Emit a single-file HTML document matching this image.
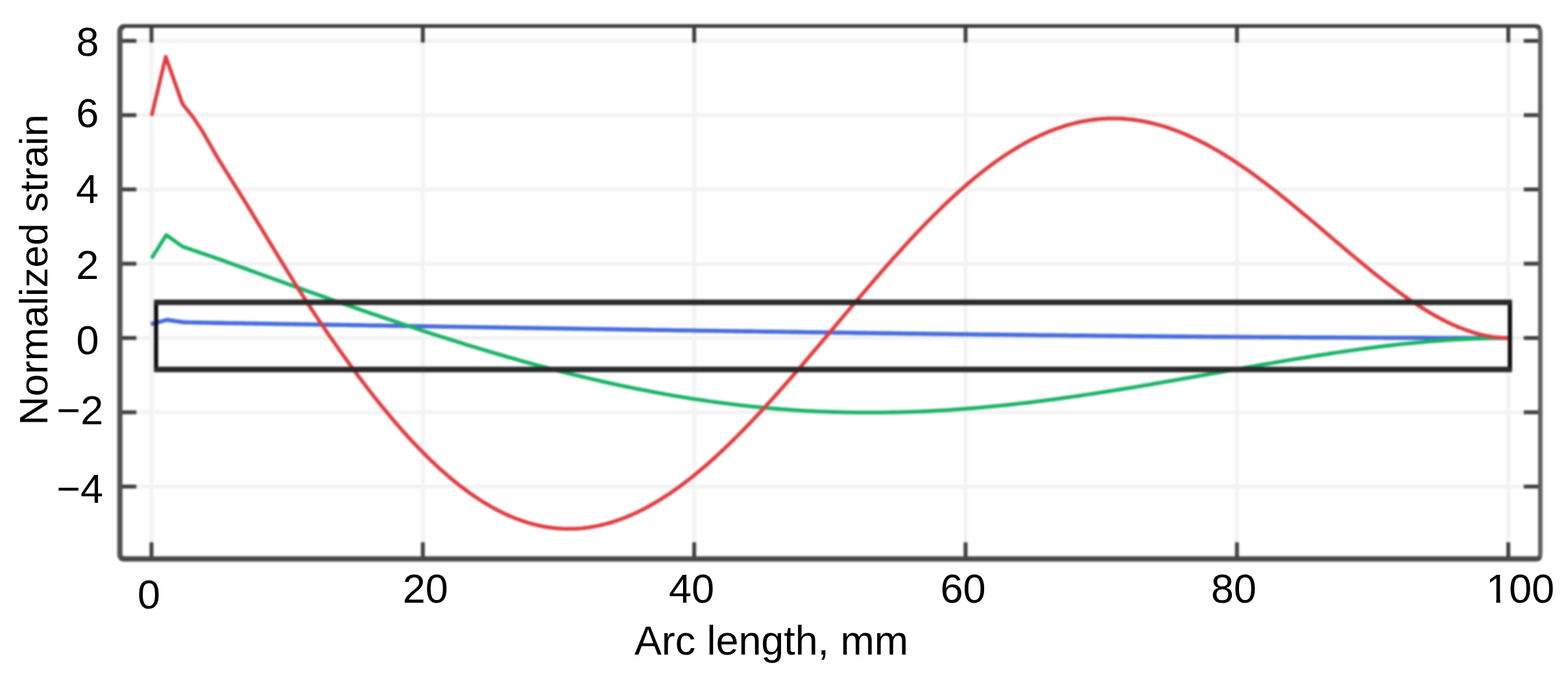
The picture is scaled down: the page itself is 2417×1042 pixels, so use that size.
<!DOCTYPE html>
<html lang="en"><head><meta charset="utf-8"><title>Normalized strain vs arc length</title>
<style>
html,body{margin:0;padding:0;background:#fff;}
body{width:2417px;height:1042px;overflow:hidden;}
svg{display:block;}
text{font-family:"Liberation Sans",sans-serif;fill:#000;}
.tk{font-size:63px;}
.ax{font-size:62.8px;}
.ay{font-size:61.6px;}
</style></head><body>
<svg width="2417" height="1042" viewBox="0 0 2417 1042">
<defs><filter id="b" filterUnits="userSpaceOnUse" x="0" y="0" width="2417" height="1042" color-interpolation-filters="sRGB"><feGaussianBlur stdDeviation="1.7"/></filter></defs>
<rect width="2417" height="1042" fill="#fff"/>
<g filter="url(#b)" fill="none">
<rect x="-20" y="-20" width="2457" height="1082" fill="#fff"/>

<g stroke="#f3f3f3" stroke-width="6">
<line x1="233.5" y1="40.1" x2="233.5" y2="861.4"/>
<line x1="651.8" y1="40.1" x2="651.8" y2="861.4"/>
<line x1="1070.1" y1="40.1" x2="1070.1" y2="861.4"/>
<line x1="1488.4" y1="40.1" x2="1488.4" y2="861.4"/>
<line x1="1906.7" y1="40.1" x2="1906.7" y2="861.4"/>
<line x1="2325.0" y1="40.1" x2="2325.0" y2="861.4"/>
<line x1="184.8" y1="63.0" x2="2374.3" y2="63.0"/>
<line x1="184.8" y1="177.5" x2="2374.3" y2="177.5"/>
<line x1="184.8" y1="292.0" x2="2374.3" y2="292.0"/>
<line x1="184.8" y1="406.5" x2="2374.3" y2="406.5"/>
<line x1="184.8" y1="521.0" x2="2374.3" y2="521.0"/>
<line x1="184.8" y1="635.5" x2="2374.3" y2="635.5"/>
<line x1="184.8" y1="750.0" x2="2374.3" y2="750.0"/>
</g>
<g>
<path d="M232.5,499.6 L257.5,493.0 L284.0,496.8 L291.9,496.9 L299.8,497.1 L307.6,497.2 L315.5,497.4 L323.4,497.5 L331.3,497.7 L339.1,497.8 L347.0,498.0 L354.9,498.1 L362.8,498.2 L370.6,498.3 L378.5,498.5 L386.4,498.6 L394.3,498.7 L402.1,498.9 L410.0,499.0 L417.9,499.1 L425.8,499.2 L433.7,499.4 L441.5,499.5 L449.4,499.6 L457.3,499.8 L465.2,499.9 L473.0,500.0 L480.9,500.1 L488.8,500.3 L496.7,500.4 L504.5,500.5 L512.4,500.7 L520.3,500.8 L528.2,500.9 L536.0,501.0 L543.9,501.2 L551.8,501.3 L559.7,501.4 L567.6,501.6 L575.4,501.7 L583.3,501.8 L591.2,501.9 L599.1,502.1 L606.9,502.2 L614.8,502.3 L622.7,502.5 L630.6,502.6 L638.4,502.7 L646.3,502.8 L654.2,503.0 L662.1,503.1 L669.9,503.2 L677.8,503.4 L685.7,503.5 L693.6,503.6 L701.5,503.7 L709.3,503.9 L717.2,504.0 L725.1,504.1 L733.0,504.2 L740.8,504.4 L748.7,504.5 L756.6,504.6 L764.5,504.7 L772.3,504.9 L780.2,505.0 L788.1,505.1 L796.0,505.3 L803.8,505.4 L811.7,505.5 L819.6,505.6 L827.5,505.8 L835.4,505.9 L843.2,506.0 L851.1,506.1 L859.0,506.3 L866.9,506.4 L874.7,506.5 L882.6,506.6 L890.5,506.8 L898.4,506.9 L906.2,507.0 L914.1,507.1 L922.0,507.2 L929.9,507.4 L937.7,507.5 L945.6,507.6 L953.5,507.7 L961.4,507.9 L969.3,508.0 L977.1,508.1 L985.0,508.2 L992.9,508.3 L1000.8,508.5 L1008.6,508.6 L1016.5,508.7 L1024.4,508.8 L1032.3,508.9 L1040.1,509.1 L1048.0,509.2 L1055.9,509.3 L1063.8,509.4 L1071.6,509.5 L1079.5,509.7 L1087.4,509.8 L1095.3,509.9 L1103.2,510.0 L1111.0,510.1 L1118.9,510.2 L1126.8,510.4 L1134.7,510.5 L1142.5,510.6 L1150.4,510.7 L1158.3,510.8 L1166.2,510.9 L1174.0,511.1 L1181.9,511.2 L1189.8,511.3 L1197.7,511.4 L1205.5,511.5 L1213.4,511.6 L1221.3,511.7 L1229.2,511.8 L1237.1,512.0 L1244.9,512.1 L1252.8,512.2 L1260.7,512.3 L1268.6,512.4 L1276.4,512.5 L1284.3,512.6 L1292.2,512.7 L1300.1,512.8 L1307.9,512.9 L1315.8,513.0 L1323.7,513.2 L1331.6,513.3 L1339.4,513.4 L1347.3,513.5 L1355.2,513.6 L1363.1,513.7 L1370.9,513.8 L1378.8,513.9 L1386.7,514.0 L1394.6,514.1 L1402.5,514.2 L1410.3,514.3 L1418.2,514.4 L1426.1,514.5 L1434.0,514.6 L1441.8,514.7 L1449.7,514.8 L1457.6,514.9 L1465.5,515.0 L1473.3,515.1 L1481.2,515.2 L1489.1,515.3 L1497.0,515.4 L1504.8,515.5 L1512.7,515.6 L1520.6,515.7 L1528.5,515.8 L1536.4,515.8 L1544.2,515.9 L1552.1,516.0 L1560.0,516.1 L1567.9,516.2 L1575.7,516.3 L1583.6,516.4 L1591.5,516.5 L1599.4,516.6 L1607.2,516.7 L1615.1,516.7 L1623.0,516.8 L1630.9,516.9 L1638.7,517.0 L1646.6,517.1 L1654.5,517.2 L1662.4,517.2 L1670.3,517.3 L1678.1,517.4 L1686.0,517.5 L1693.9,517.6 L1701.8,517.6 L1709.6,517.7 L1717.5,517.8 L1725.4,517.9 L1733.3,517.9 L1741.1,518.0 L1749.0,518.1 L1756.9,518.2 L1764.8,518.2 L1772.6,518.3 L1780.5,518.4 L1788.4,518.5 L1796.3,518.5 L1804.2,518.6 L1812.0,518.7 L1819.9,518.7 L1827.8,518.8 L1835.7,518.9 L1843.5,518.9 L1851.4,519.0 L1859.3,519.1 L1867.2,519.1 L1875.0,519.2 L1882.9,519.2 L1890.8,519.3 L1898.7,519.4 L1906.5,519.4 L1914.4,519.5 L1922.3,519.5 L1930.2,519.6 L1938.1,519.6 L1945.9,519.7 L1953.8,519.7 L1961.7,519.8 L1969.6,519.8 L1977.4,519.9 L1985.3,519.9 L1993.2,520.0 L2001.1,520.0 L2008.9,520.1 L2016.8,520.1 L2024.7,520.2 L2032.6,520.2 L2040.4,520.2 L2048.3,520.3 L2056.2,520.3 L2064.1,520.4 L2072.0,520.4 L2079.8,520.4 L2087.7,520.5 L2095.6,520.5 L2103.5,520.5 L2111.3,520.6 L2119.2,520.6 L2127.1,520.6 L2135.0,520.7 L2142.8,520.7 L2150.7,520.7 L2158.6,520.7 L2166.5,520.8 L2174.3,520.8 L2182.2,520.8 L2190.1,520.8 L2198.0,520.8 L2205.9,520.9 L2213.7,520.9 L2221.6,520.9 L2229.5,520.9 L2237.4,520.9 L2245.2,520.9 L2253.1,520.9 L2261.0,521.0 L2268.9,521.0 L2276.7,521.0 L2284.6,521.0 L2292.5,521.0 L2300.4,521.0 L2308.2,521.0 L2316.1,521.0 L2324.0,521.0" stroke="#466cdc" stroke-width="6.4" stroke-linejoin="round"/>
<path d="M233.7,398.2 L256.2,362.2 L281.2,380.0 L289.1,382.8 L297.0,385.6 L304.9,388.2 L312.7,390.9 L320.6,393.5 L328.5,396.2 L336.4,399.0 L344.3,401.8 L352.2,404.7 L360.1,407.6 L368.0,410.4 L375.8,413.3 L383.7,416.2 L391.6,419.0 L399.5,421.9 L407.4,424.7 L415.3,427.6 L423.2,430.4 L431.1,433.3 L438.9,436.1 L446.8,438.9 L454.7,441.8 L462.6,444.6 L470.5,447.4 L478.4,450.2 L486.3,453.0 L494.2,455.8 L502.0,458.6 L509.9,461.4 L517.8,464.2 L525.7,467.0 L533.6,469.7 L541.5,472.5 L549.4,475.2 L557.3,477.9 L565.1,480.7 L573.0,483.4 L580.9,486.1 L588.8,488.8 L596.7,491.5 L604.6,494.1 L612.5,496.8 L620.4,499.4 L628.2,502.1 L636.1,504.7 L644.0,507.3 L651.9,509.9 L659.8,512.4 L667.7,515.0 L675.6,517.5 L683.5,520.1 L691.3,522.6 L699.2,525.0 L707.1,527.5 L715.0,530.0 L722.9,532.4 L730.8,534.8 L738.7,537.2 L746.5,539.6 L754.4,542.0 L762.3,544.3 L770.2,546.6 L778.1,548.9 L786.0,551.2 L793.9,553.4 L801.8,555.7 L809.6,557.9 L817.5,560.0 L825.4,562.2 L833.3,564.3 L841.2,566.4 L849.1,568.5 L857.0,570.6 L864.9,572.6 L872.7,574.6 L880.6,576.6 L888.5,578.5 L896.4,580.4 L904.3,582.3 L912.2,584.2 L920.1,586.0 L928.0,587.8 L935.8,589.6 L943.7,591.4 L951.6,593.1 L959.5,594.8 L967.4,596.4 L975.3,598.0 L983.2,599.6 L991.1,601.2 L998.9,602.7 L1006.8,604.2 L1014.7,605.7 L1022.6,607.1 L1030.5,608.5 L1038.4,609.9 L1046.3,611.2 L1054.2,612.5 L1062.0,613.8 L1069.9,615.0 L1077.8,616.2 L1085.7,617.4 L1093.6,618.5 L1101.5,619.6 L1109.4,620.7 L1117.2,621.7 L1125.1,622.7 L1133.0,623.6 L1140.9,624.6 L1148.8,625.4 L1156.7,626.3 L1164.6,627.1 L1172.5,627.9 L1180.3,628.6 L1188.2,629.3 L1196.1,630.0 L1204.0,630.6 L1211.9,631.2 L1219.8,631.8 L1227.7,632.3 L1235.6,632.8 L1243.4,633.3 L1251.3,633.7 L1259.2,634.1 L1267.1,634.4 L1275.0,634.7 L1282.9,635.0 L1290.8,635.2 L1298.7,635.4 L1306.5,635.6 L1314.4,635.7 L1322.3,635.8 L1330.2,635.9 L1338.1,635.9 L1346.0,635.9 L1353.9,635.9 L1361.8,635.8 L1369.6,635.7 L1377.5,635.5 L1385.4,635.4 L1393.3,635.1 L1401.2,634.9 L1409.1,634.6 L1417.0,634.3 L1424.9,634.0 L1432.7,633.6 L1440.6,633.2 L1448.5,632.7 L1456.4,632.3 L1464.3,631.8 L1472.2,631.2 L1480.1,630.7 L1488.0,630.1 L1495.8,629.5 L1503.7,628.8 L1511.6,628.1 L1519.5,627.4 L1527.4,626.7 L1535.3,625.9 L1543.2,625.1 L1551.0,624.3 L1558.9,623.5 L1566.8,622.6 L1574.7,621.7 L1582.6,620.8 L1590.5,619.9 L1598.4,618.9 L1606.3,617.9 L1614.1,616.9 L1622.0,615.9 L1629.9,614.8 L1637.8,613.7 L1645.7,612.6 L1653.6,611.5 L1661.5,610.4 L1669.4,609.2 L1677.2,608.0 L1685.1,606.9 L1693.0,605.6 L1700.9,604.4 L1708.8,603.2 L1716.7,601.9 L1724.6,600.7 L1732.5,599.4 L1740.3,598.1 L1748.2,596.8 L1756.1,595.5 L1764.0,594.1 L1771.9,592.8 L1779.8,591.4 L1787.7,590.1 L1795.6,588.7 L1803.4,587.3 L1811.3,586.0 L1819.2,584.6 L1827.1,583.2 L1835.0,581.8 L1842.9,580.4 L1850.8,579.0 L1858.7,577.6 L1866.5,576.2 L1874.4,574.8 L1882.3,573.4 L1890.2,572.0 L1898.1,570.6 L1906.0,569.2 L1913.9,567.8 L1921.7,566.4 L1929.6,565.0 L1937.5,563.6 L1945.4,562.2 L1953.3,560.9 L1961.2,559.5 L1969.1,558.2 L1977.0,556.8 L1984.8,555.5 L1992.7,554.2 L2000.6,552.9 L2008.5,551.6 L2016.4,550.3 L2024.3,549.0 L2032.2,547.8 L2040.1,546.6 L2047.9,545.3 L2055.8,544.2 L2063.7,543.0 L2071.6,541.8 L2079.5,540.7 L2087.4,539.6 L2095.3,538.5 L2103.2,537.4 L2111.0,536.4 L2118.9,535.4 L2126.8,534.4 L2134.7,533.4 L2142.6,532.5 L2150.5,531.6 L2158.4,530.7 L2166.3,529.9 L2174.1,529.1 L2182.0,528.3 L2189.9,527.6 L2197.8,526.9 L2205.7,526.2 L2213.6,525.6 L2221.5,525.0 L2229.4,524.4 L2237.2,523.9 L2245.1,523.4 L2253.0,523.0 L2260.9,522.6 L2268.8,522.2 L2276.7,521.9 L2284.6,521.6 L2292.5,521.4 L2300.3,521.2 L2308.2,521.1 L2316.1,521.0 L2324.0,521.0" stroke="#18b266" stroke-width="5.8" stroke-linejoin="round"/>
<path d="M233.7,178.7 L255.5,87.5 L281.2,160.0 L297.5,180.5 L311.2,201.0 L336.2,244.5 L378.1,311.5 L385.6,323.8 L393.1,336.2 L400.6,348.6 L408.2,361.0 L415.7,373.4 L423.2,385.8 L430.7,398.1 L438.2,410.3 L445.7,422.5 L453.2,434.5 L460.7,446.5 L468.3,458.3 L475.8,469.9 L483.3,481.3 L490.8,492.5 L498.3,503.6 L505.8,514.6 L513.3,525.4 L520.8,536.2 L528.4,546.8 L535.9,557.2 L543.4,567.5 L550.9,577.7 L558.4,587.7 L565.9,597.5 L573.4,607.2 L581.0,616.7 L588.5,626.1 L596.0,635.2 L603.5,644.2 L611.0,653.0 L618.5,661.6 L626.0,670.0 L633.5,678.3 L641.1,686.3 L648.6,694.0 L656.1,701.6 L663.6,709.0 L671.1,716.1 L678.6,723.1 L686.1,729.7 L693.7,736.2 L701.2,742.4 L708.7,748.4 L716.2,754.1 L723.7,759.6 L731.2,764.9 L738.7,769.9 L746.2,774.6 L753.8,779.1 L761.3,783.4 L768.8,787.4 L776.3,791.1 L783.8,794.5 L791.3,797.7 L798.8,800.6 L806.3,803.3 L813.9,805.7 L821.4,807.8 L828.9,809.7 L836.4,811.3 L843.9,812.6 L851.4,813.6 L858.9,814.4 L866.5,814.9 L874.0,815.2 L881.5,815.1 L889.0,814.8 L896.5,814.3 L904.0,813.5 L911.5,812.4 L919.0,811.0 L926.6,809.4 L934.1,807.5 L941.6,805.4 L949.1,803.1 L956.6,800.4 L964.1,797.6 L971.6,794.4 L979.2,791.1 L986.7,787.5 L994.2,783.6 L1001.7,779.6 L1009.2,775.3 L1016.7,770.8 L1024.2,766.0 L1031.7,761.1 L1039.3,755.9 L1046.8,750.5 L1054.3,744.9 L1061.8,739.2 L1069.3,733.2 L1076.8,727.0 L1084.3,720.7 L1091.8,714.2 L1099.4,707.5 L1106.9,700.7 L1114.4,693.6 L1121.9,686.5 L1129.4,679.2 L1136.9,671.7 L1144.4,664.1 L1152.0,656.4 L1159.5,648.6 L1167.0,640.6 L1174.5,632.5 L1182.0,624.3 L1189.5,616.1 L1197.0,607.7 L1204.5,599.3 L1212.1,590.7 L1219.6,582.1 L1227.1,573.5 L1234.6,564.8 L1242.1,556.0 L1249.6,547.2 L1257.1,538.4 L1264.6,529.5 L1272.2,520.6 L1279.7,511.7 L1287.2,502.8 L1294.7,493.9 L1302.2,485.0 L1309.7,476.1 L1317.2,467.2 L1324.8,458.4 L1332.3,449.6 L1339.8,440.8 L1347.3,432.1 L1354.8,423.5 L1362.3,414.9 L1369.8,406.4 L1377.3,397.9 L1384.9,389.6 L1392.4,381.3 L1399.9,373.1 L1407.4,365.1 L1414.9,357.1 L1422.4,349.2 L1429.9,341.5 L1437.5,333.9 L1445.0,326.5 L1452.5,319.1 L1460.0,311.9 L1467.5,304.9 L1475.0,298.0 L1482.5,291.3 L1490.0,284.7 L1497.6,278.3 L1505.1,272.1 L1512.6,266.1 L1520.1,260.2 L1527.6,254.6 L1535.1,249.1 L1542.6,243.8 L1550.1,238.7 L1557.7,233.9 L1565.2,229.2 L1572.7,224.7 L1580.2,220.5 L1587.7,216.4 L1595.2,212.6 L1602.7,209.0 L1610.3,205.7 L1617.8,202.5 L1625.3,199.6 L1632.8,196.9 L1640.3,194.4 L1647.8,192.2 L1655.3,190.2 L1662.8,188.4 L1670.4,186.9 L1677.9,185.6 L1685.4,184.5 L1692.9,183.7 L1700.4,183.1 L1707.9,182.7 L1715.4,182.6 L1722.9,182.7 L1730.5,183.0 L1738.0,183.6 L1745.5,184.4 L1753.0,185.4 L1760.5,186.6 L1768.0,188.1 L1775.5,189.8 L1783.1,191.7 L1790.6,193.8 L1798.1,196.1 L1805.6,198.7 L1813.1,201.4 L1820.6,204.4 L1828.1,207.5 L1835.6,210.8 L1843.2,214.3 L1850.7,218.1 L1858.2,221.9 L1865.7,226.0 L1873.2,230.2 L1880.7,234.6 L1888.2,239.2 L1895.8,243.9 L1903.3,248.8 L1910.8,253.8 L1918.3,258.9 L1925.8,264.2 L1933.3,269.6 L1940.8,275.1 L1948.3,280.8 L1955.9,286.5 L1963.4,292.3 L1970.9,298.2 L1978.4,304.2 L1985.9,310.3 L1993.4,316.5 L2000.9,322.7 L2008.4,328.9 L2016.0,335.2 L2023.5,341.6 L2031.0,347.9 L2038.5,354.3 L2046.0,360.7 L2053.5,367.1 L2061.0,373.5 L2068.6,379.9 L2076.1,386.3 L2083.6,392.6 L2091.1,398.9 L2098.6,405.1 L2106.1,411.3 L2113.6,417.4 L2121.1,423.4 L2128.7,429.3 L2136.2,435.2 L2143.7,440.9 L2151.2,446.5 L2158.7,452.0 L2166.2,457.4 L2173.7,462.6 L2181.3,467.6 L2188.8,472.5 L2196.3,477.2 L2203.8,481.7 L2211.3,486.1 L2218.8,490.2 L2226.3,494.1 L2233.8,497.8 L2241.4,501.3 L2248.9,504.5 L2256.4,507.4 L2263.9,510.1 L2271.4,512.6 L2278.9,514.7 L2286.4,516.5 L2293.9,518.1 L2301.5,519.3 L2309.0,520.2 L2316.5,520.8 L2324.0,521.0" stroke="#dd3c40" stroke-width="5.8" stroke-linejoin="round"/>
</g>
<line x1="240.6" y1="466.0" x2="240.6" y2="569.5" stroke="#0a0a0a" stroke-width="6.4"/>
<line x1="2327.5" y1="466.0" x2="2327.5" y2="569.5" stroke="#0a0a0a" stroke-width="6.4"/>
<line x1="237.4" y1="466.0" x2="2330.7" y2="466.0" stroke="#292929" stroke-width="8.6"/>
<line x1="237.4" y1="569.5" x2="2330.7" y2="569.5" stroke="#292929" stroke-width="8.6"/>
<g stroke="#404040" stroke-width="6">
<line x1="233.5" y1="40.1" x2="233.5" y2="65.6"/>
<line x1="233.5" y1="861.4" x2="233.5" y2="835.9"/>
<line x1="651.8" y1="40.1" x2="651.8" y2="65.6"/>
<line x1="651.8" y1="861.4" x2="651.8" y2="835.9"/>
<line x1="1070.1" y1="40.1" x2="1070.1" y2="65.6"/>
<line x1="1070.1" y1="861.4" x2="1070.1" y2="835.9"/>
<line x1="1488.4" y1="40.1" x2="1488.4" y2="65.6"/>
<line x1="1488.4" y1="861.4" x2="1488.4" y2="835.9"/>
<line x1="1906.7" y1="40.1" x2="1906.7" y2="65.6"/>
<line x1="1906.7" y1="861.4" x2="1906.7" y2="835.9"/>
<line x1="2325.0" y1="40.1" x2="2325.0" y2="65.6"/>
<line x1="2325.0" y1="861.4" x2="2325.0" y2="835.9"/>
<line x1="184.8" y1="63.0" x2="210.3" y2="63.0"/>
<line x1="2374.3" y1="63.0" x2="2348.8" y2="63.0"/>
<line x1="184.8" y1="177.5" x2="210.3" y2="177.5"/>
<line x1="2374.3" y1="177.5" x2="2348.8" y2="177.5"/>
<line x1="184.8" y1="292.0" x2="210.3" y2="292.0"/>
<line x1="2374.3" y1="292.0" x2="2348.8" y2="292.0"/>
<line x1="184.8" y1="406.5" x2="210.3" y2="406.5"/>
<line x1="2374.3" y1="406.5" x2="2348.8" y2="406.5"/>
<line x1="184.8" y1="521.0" x2="210.3" y2="521.0"/>
<line x1="2374.3" y1="521.0" x2="2348.8" y2="521.0"/>
<line x1="184.8" y1="635.5" x2="210.3" y2="635.5"/>
<line x1="2374.3" y1="635.5" x2="2348.8" y2="635.5"/>
<line x1="184.8" y1="750.0" x2="210.3" y2="750.0"/>
<line x1="2374.3" y1="750.0" x2="2348.8" y2="750.0"/>
</g>
<path d="M191.8,41.300000000000004 A7,7 0 0 0 184.8,48.300000000000004 L184.8,854.4 A7,7 0 0 0 191.8,861.4" stroke="#525252" stroke-width="8"/>
<path d="M2367.3,41.300000000000004 A7,7 0 0 1 2374.3,48.300000000000004 L2374.3,854.4 A7,7 0 0 1 2367.3,861.4" stroke="#5e5e5e" stroke-width="6.8"/>
<path d="M186.3,43.6 Q186.3,40.1 191.8,40.1 L2367.3,40.1 Q2372.8,40.1 2372.8,43.6" stroke="#3d3d3d" stroke-width="5.6"/>
<path d="M186.3,857.9 Q186.3,861.4 191.8,861.4 L2367.3,861.4 Q2372.8,861.4 2372.8,857.9" stroke="#474747" stroke-width="8"/>
</g>
<text class="tk" transform="translate(152.5,85.5) scale(1,1.0)" text-anchor="end">8</text>
<text class="tk" transform="translate(152.2,195.5) scale(1,1.0)" text-anchor="end">6</text>
<text class="tk" transform="translate(152.0,313.3) scale(1,1.0)" text-anchor="end">4</text>
<text class="tk" transform="translate(152.2,430.1) scale(1,1.0)" text-anchor="end">2</text>
<text class="tk" transform="translate(152.5,545.9) scale(1,1.0)" text-anchor="end">0</text>
<text class="tk" transform="translate(159.2,654.3) scale(1,1.0)" text-anchor="end">−2</text>
<text class="tk" transform="translate(159.0,774.9) scale(1,1.0)" text-anchor="end">−4</text>
<text class="tk" transform="translate(229.5,938.0) scale(1,1.0)" text-anchor="middle">0</text>
<text class="tk" transform="translate(655.8,929.2) scale(1,1.0)" text-anchor="middle">20</text>
<text class="tk" transform="translate(1066,929.4) scale(1,1.0)" text-anchor="middle">40</text>
<text class="tk" transform="translate(1484.5,929.4) scale(1,1.0)" text-anchor="middle">60</text>
<text class="tk" transform="translate(1901.8,929.4) scale(1,1.0)" text-anchor="middle">80</text>
<text class="tk" transform="translate(2343.4,929.4) scale(1,1.0)" text-anchor="middle">100</text>
<rect x="2293" y="922" width="13.4" height="10" fill="#fff"/><rect x="2312.6" y="922" width="12.4" height="10" fill="#fff"/>
<text class="ax" transform="translate(1189.0,1008.7) scale(1,1.0)" text-anchor="middle">Arc length, mm</text>
<text class="ay" transform="translate(72.5,415.9) rotate(-90) scale(1,1.0)" text-anchor="middle">Normalized strain</text>
</svg></body></html>
